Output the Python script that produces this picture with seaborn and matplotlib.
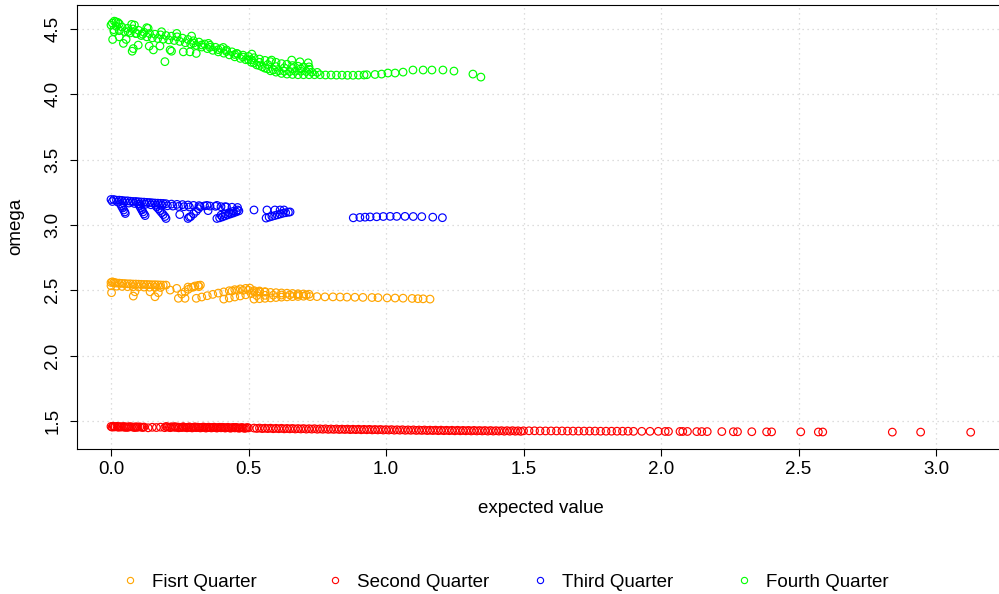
import numpy as np
import pandas as pd
import matplotlib
matplotlib.use("Agg")
import matplotlib.pyplot as plt
from matplotlib.lines import Line2D
import seaborn as sns

# ---- First Quarter (orange) ----
o_top_x = [0.000, 0.005, 0.010, 0.015, 0.020, 0.030, 0.040, 0.050, 0.060, 0.070, 0.080, 0.090,
           0.100, 0.110, 0.120, 0.130, 0.140, 0.150, 0.160, 0.170, 0.180, 0.190, 0.200]
o_top_y = [2.560, 2.565, 2.560, 2.558, 2.556, 2.555, 2.553, 2.552, 2.550, 2.550, 2.548, 2.548,
           2.547, 2.546, 2.545, 2.545, 2.544, 2.543, 2.543, 2.542, 2.541, 2.540, 2.540]
o_second_x = [0.00, 0.02, 0.04, 0.06, 0.08, 0.10, 0.12, 0.14, 0.16, 0.18]
o_second_y = [2.535, 2.532, 2.530, 2.528, 2.527, 2.526, 2.525, 2.524, 2.523, 2.522]
o_scatter_x = [0.002, 0.081, 0.087, 0.142, 0.160, 0.172, 0.215, 0.239, 0.245, 0.269]
o_scatter_y = [2.482, 2.456, 2.489, 2.489, 2.451, 2.482, 2.502, 2.515, 2.439, 2.439]
o_hook_x = [0.257, 0.269, 0.281, 0.293, 0.305, 0.317, 0.325, 0.280, 0.300, 0.320]
o_hook_y = [2.472, 2.489, 2.508, 2.523, 2.533, 2.538, 2.540, 2.525, 2.525, 2.528]
o_rise1_x = [0.31, 0.33, 0.35, 0.37, 0.39, 0.41, 0.43, 0.45, 0.47, 0.49, 0.505]
o_rise1_y = [2.439, 2.449, 2.459, 2.469, 2.479, 2.488, 2.497, 2.505, 2.511, 2.515, 2.517]
o_rise2_x = [0.41, 0.43, 0.45, 0.47, 0.49, 0.51, 0.53, 0.54]
o_rise2_y = [2.433, 2.441, 2.449, 2.457, 2.466, 2.475, 2.484, 2.489]
o_crest_x = [0.44, 0.46, 0.48, 0.50, 0.52, 0.54, 0.56]
o_crest_y = [2.495, 2.500, 2.500, 2.500, 2.498, 2.495, 2.490]
o_bandtop_x = [0.52, 0.54, 0.56, 0.58, 0.60, 0.62, 0.64, 0.66, 0.68, 0.70, 0.72]
o_bandtop_y = [2.490, 2.488, 2.486, 2.484, 2.482, 2.480, 2.478, 2.476, 2.474, 2.472, 2.470]
o_bandlow_x = [0.52, 0.54, 0.56, 0.58, 0.60, 0.62, 0.64, 0.66, 0.68, 0.70]
o_bandlow_y = [2.433, 2.436, 2.439, 2.442, 2.445, 2.448, 2.450, 2.452, 2.453, 2.455]
o_bandmid_x = [0.53, 0.56, 0.59, 0.62, 0.65, 0.68, 0.71]
o_bandmid_y = [2.460, 2.462, 2.463, 2.464, 2.465, 2.465, 2.465]
o_tail_x = [0.724, 0.749, 0.778, 0.807, 0.833, 0.858, 0.887, 0.916, 0.949, 0.971, 1.004,
            1.033, 1.062, 1.095, 1.116, 1.135, 1.160]
o_tail_y = [2.452, 2.452, 2.450, 2.450, 2.449, 2.448, 2.447, 2.446, 2.445, 2.444, 2.442,
            2.441, 2.440, 2.438, 2.436, 2.435, 2.433]

# ---- Second Quarter (red) ----
r_head_x = [0.000, 0.008, 0.015, 0.022, 0.030, 0.038, 0.045, 0.052, 0.060, 0.068,
            0.075, 0.082, 0.090, 0.098, 0.105, 0.112, 0.120, 0.135, 0.150, 0.165,
            0.180, 0.195, 0.205, 0.212, 0.220, 0.228, 0.235, 0.242, 0.250, 0.258,
            0.265, 0.272, 0.280, 0.290, 0.300, 0.310, 0.320, 0.330, 0.340, 0.350,
            0.360, 0.370, 0.380, 0.390, 0.400, 0.410, 0.420, 0.430, 0.440, 0.450,
            0.460, 0.470, 0.480, 0.490, 0.500]
r_head_y = [1.458, 1.460, 1.456, 1.459, 1.457, 1.455, 1.458, 1.456, 1.454, 1.457,
            1.455, 1.453, 1.456, 1.454, 1.455, 1.452, 1.454, 1.448, 1.452, 1.450,
            1.453, 1.449, 1.455, 1.452, 1.456, 1.453, 1.451, 1.454, 1.452, 1.450,
            1.453, 1.451, 1.452, 1.450, 1.452, 1.449, 1.451, 1.450, 1.452, 1.449,
            1.450, 1.451, 1.449, 1.450, 1.448, 1.450, 1.449, 1.448, 1.449, 1.447,
            1.448, 1.447, 1.448, 1.446, 1.447]
r_fill_x = [0.004, 0.012, 0.026, 0.034, 0.048, 0.056, 0.064, 0.086, 0.094, 0.116,
            0.200, 0.216, 0.232, 0.246, 0.262, 0.276, 0.285, 0.295, 0.305, 0.315,
            0.325, 0.335, 0.345, 0.355, 0.365, 0.375, 0.385, 0.395, 0.405, 0.415,
            0.425, 0.435, 0.445, 0.455, 0.465, 0.475, 0.485, 0.495]
r_fill_y = [1.453, 1.455, 1.452, 1.454, 1.452, 1.451, 1.453, 1.450, 1.452, 1.451,
            1.458, 1.449, 1.457, 1.448, 1.456, 1.448, 1.455, 1.447, 1.455, 1.453,
            1.447, 1.454, 1.446, 1.453, 1.447, 1.453, 1.446, 1.452, 1.452, 1.446,
            1.452, 1.445, 1.451, 1.451, 1.445, 1.450, 1.444, 1.450]
r_body_x = [0.52, 0.54, 0.56, 0.58, 0.60, 0.62, 0.64, 0.66, 0.68, 0.70,
            0.72, 0.74, 0.76, 0.78, 0.80, 0.82, 0.84, 0.86, 0.88, 0.90,
            0.92, 0.94, 0.96, 0.98, 1.00, 1.02, 1.04, 1.06, 1.08, 1.10,
            1.12, 1.14, 1.16, 1.18, 1.20, 1.22, 1.24, 1.26, 1.28, 1.30,
            1.32, 1.34, 1.36, 1.38, 1.40, 1.42, 1.44, 1.46, 1.48, 1.50,
            1.52, 1.54, 1.56, 1.58, 1.60, 1.62, 1.64, 1.66, 1.68, 1.70,
            1.72, 1.74, 1.76, 1.78, 1.80, 1.82, 1.84, 1.86, 1.88, 1.90]
r_body_y = [1.446, 1.446, 1.445, 1.445, 1.444, 1.444, 1.443, 1.443, 1.442, 1.442,
            1.441, 1.441, 1.440, 1.440, 1.439, 1.439, 1.438, 1.438, 1.437, 1.437,
            1.436, 1.436, 1.435, 1.435, 1.434, 1.434, 1.433, 1.433, 1.432, 1.432,
            1.431, 1.431, 1.430, 1.430, 1.430, 1.429, 1.429, 1.429, 1.428, 1.428,
            1.428, 1.427, 1.427, 1.427, 1.426, 1.426, 1.426, 1.426, 1.425, 1.425,
            1.425, 1.425, 1.424, 1.424, 1.424, 1.424, 1.424, 1.423, 1.423, 1.423,
            1.423, 1.423, 1.423, 1.422, 1.422, 1.422, 1.422, 1.422, 1.422, 1.421]
r_body2_x = [0.53, 0.55, 0.57, 0.59, 0.61, 0.63, 0.65, 0.67, 0.69, 0.71,
             0.73, 0.75, 0.77, 0.79, 0.81, 0.83, 0.85, 0.87, 0.89, 0.91,
             0.93, 0.95, 0.97, 0.99, 1.01, 1.03, 1.05, 1.07, 1.09, 1.11,
             1.13, 1.15, 1.17, 1.19, 1.21, 1.23, 1.25, 1.27, 1.29, 1.31,
             1.33, 1.35, 1.37, 1.39, 1.41, 1.43, 1.45, 1.47, 1.49]
r_body2_y = [1.443, 1.442, 1.442, 1.441, 1.441, 1.440, 1.440, 1.439, 1.439, 1.438,
             1.438, 1.437, 1.437, 1.436, 1.436, 1.435, 1.435, 1.434, 1.434, 1.433,
             1.433, 1.432, 1.432, 1.431, 1.431, 1.430, 1.430, 1.429, 1.429, 1.428,
             1.428, 1.427, 1.427, 1.426, 1.426, 1.426, 1.425, 1.425, 1.425, 1.424,
             1.424, 1.424, 1.423, 1.423, 1.423, 1.422, 1.422, 1.422, 1.421]
r_tail_x = [1.930, 1.960, 1.990, 2.015, 2.027, 2.069, 2.079, 2.096, 2.130, 2.148,
            2.168, 2.221, 2.263, 2.278, 2.330, 2.384, 2.402, 2.508, 2.572, 2.588,
            2.841, 2.944, 3.126]
r_tail_y = [1.421, 1.421, 1.421, 1.420, 1.420, 1.420, 1.420, 1.420, 1.419, 1.419,
            1.419, 1.419, 1.418, 1.418, 1.418, 1.417, 1.417, 1.417, 1.416, 1.416,
            1.415, 1.415, 1.414]

# ---- Third Quarter (blue) ----
b_top_x = [0.00, 0.01, 0.02, 0.03, 0.04, 0.05, 0.06, 0.07, 0.08, 0.09, 0.10, 0.11,
           0.12, 0.13, 0.14, 0.15, 0.16, 0.17, 0.18, 0.19, 0.20, 0.22, 0.24, 0.26,
           0.28, 0.30, 0.32, 0.34, 0.36, 0.38, 0.40, 0.42, 0.44, 0.46]
b_top_y = [3.195, 3.195, 3.190, 3.190, 3.188, 3.185, 3.185, 3.182, 3.180, 3.180, 3.178, 3.176,
           3.175, 3.173, 3.172, 3.170, 3.168, 3.167, 3.166, 3.165, 3.163, 3.160, 3.158, 3.156,
           3.153, 3.150, 3.148, 3.146, 3.145, 3.143, 3.140, 3.138, 3.136, 3.134]
b_second_x = [0.005, 0.025, 0.045, 0.065, 0.085, 0.105, 0.125, 0.145, 0.165, 0.185,
              0.205, 0.225, 0.245, 0.265, 0.285]
b_second_y = [3.180, 3.175, 3.170, 3.168, 3.165, 3.160, 3.158, 3.155, 3.152, 3.150,
              3.147, 3.145, 3.142, 3.140, 3.138]
b_hook_x = [0.035, 0.038, 0.042, 0.046, 0.050, 0.052,
            0.100, 0.104, 0.108, 0.112, 0.116, 0.120, 0.124,
            0.165, 0.172, 0.178, 0.184, 0.190, 0.196, 0.200,
            0.250,
            0.280, 0.285, 0.290, 0.300, 0.310, 0.318, 0.324,
            0.349, 0.353, 0.385, 0.415]
b_hook_y = [3.160, 3.145, 3.130, 3.115, 3.100, 3.088,
            3.160, 3.145, 3.130, 3.115, 3.100, 3.085, 3.072,
            3.140, 3.125, 3.110, 3.095, 3.080, 3.065, 3.050,
            3.080,
            3.050, 3.060, 3.065, 3.085, 3.105, 3.125, 3.140,
            3.150, 3.110, 3.150, 3.140]
b_rise_x = [0.385, 0.395, 0.405, 0.415, 0.425, 0.435, 0.445, 0.455, 0.465,
            0.400, 0.415, 0.430, 0.445, 0.460]
b_rise_y = [3.050, 3.055, 3.062, 3.070, 3.078, 3.085, 3.092, 3.100, 3.108,
            3.075, 3.085, 3.095, 3.105, 3.115]
b_mid_x = [0.520, 0.567, 0.596, 0.615, 0.629,
           0.564, 0.575, 0.585, 0.595, 0.605, 0.615, 0.625, 0.635, 0.645, 0.651]
b_mid_y = [3.115, 3.115, 3.115, 3.115, 3.115,
           3.053, 3.060, 3.066, 3.072, 3.078, 3.084, 3.090, 3.094, 3.098, 3.100]
b_tail_x = [0.881, 0.905, 0.924, 0.942, 0.966, 0.990, 1.015, 1.039, 1.069, 1.099,
            1.130, 1.170, 1.205]
b_tail_y = [3.055, 3.058, 3.060, 3.062, 3.063, 3.065, 3.066, 3.066, 3.066, 3.065,
            3.064, 3.060, 3.056]

# ---- Fourth Quarter (green) ----
g_upper_x = [0.00, 0.02, 0.04, 0.06, 0.08, 0.10, 0.12, 0.14, 0.16, 0.18, 0.20, 0.22,
             0.24, 0.26, 0.28, 0.30, 0.32, 0.34, 0.36, 0.38, 0.40, 0.42, 0.44, 0.46,
             0.48, 0.50, 0.52, 0.54, 0.56, 0.58, 0.60, 0.62, 0.64, 0.66, 0.68, 0.70, 0.72]
g_upper_y = [4.530, 4.520, 4.515, 4.505, 4.500, 4.490, 4.475, 4.465, 4.460, 4.455, 4.450, 4.445,
             4.440, 4.430, 4.420, 4.410, 4.400, 4.385, 4.375, 4.360, 4.350, 4.340, 4.325, 4.310,
             4.300, 4.290, 4.280, 4.270, 4.260, 4.250, 4.245, 4.235, 4.230, 4.220, 4.215, 4.210, 4.210]
g_mid_x = [0.01, 0.03, 0.05, 0.07, 0.09, 0.11, 0.13, 0.15, 0.17, 0.19, 0.21, 0.23,
           0.25, 0.27, 0.29, 0.31, 0.33, 0.35, 0.37, 0.39, 0.41, 0.43, 0.45, 0.47,
           0.49, 0.51, 0.53, 0.55, 0.57, 0.59, 0.61, 0.63, 0.65, 0.67, 0.69, 0.71, 0.73, 0.75]
g_mid_y = [4.495, 4.487, 4.480, 4.470, 4.465, 4.450, 4.440, 4.432, 4.427, 4.422, 4.417, 4.412,
           4.405, 4.395, 4.385, 4.375, 4.362, 4.350, 4.337, 4.325, 4.315, 4.302, 4.287, 4.275,
           4.265, 4.245, 4.225, 4.210, 4.195, 4.187, 4.180, 4.177, 4.175, 4.177, 4.177, 4.175, 4.170, 4.168]
g_inner_x = [0.30, 0.33, 0.36, 0.39, 0.42, 0.45, 0.48, 0.51, 0.54, 0.57, 0.60, 0.63,
             0.66, 0.69, 0.72]
g_inner_y = [4.392, 4.378, 4.360, 4.342, 4.328, 4.305, 4.285, 4.265, 4.245, 4.228, 4.212, 4.203,
             4.198, 4.195, 4.192]
g_lower_x = [0.50, 0.52, 0.54, 0.56, 0.58, 0.60, 0.62, 0.64, 0.66, 0.68, 0.70,
             0.72, 0.74, 0.76, 0.78, 0.80, 0.82, 0.84, 0.86, 0.88, 0.90, 0.92]
g_lower_y = [4.265, 4.240, 4.220, 4.200, 4.180, 4.170, 4.160, 4.155, 4.152, 4.150, 4.150,
             4.150, 4.150, 4.150, 4.148, 4.148, 4.147, 4.147, 4.146, 4.146, 4.147, 4.148]
g_bump_x = [0.011, 0.062, 0.093, 0.115, 0.184, 0.239, 0.293, 0.354, 0.408, 0.457, 0.512,
            0.584, 0.657, 0.687, 0.717]
g_bump_y = [4.480, 4.480, 4.466, 4.460, 4.479, 4.466, 4.446, 4.390, 4.359, 4.313, 4.308,
            4.262, 4.262, 4.249, 4.241]
g_peak_x = [0.005, 0.012, 0.018, 0.025, 0.030, 0.075, 0.085, 0.130, 0.135]
g_peak_y = [4.545, 4.560, 4.555, 4.550, 4.540, 4.535, 4.530, 4.510, 4.505]
g_low_x = [0.006, 0.045, 0.077, 0.081, 0.099, 0.139, 0.154, 0.178, 0.196, 0.215, 0.220,
           0.263, 0.287, 0.310, 0.030, 0.055]
g_low_y = [4.420, 4.390, 4.330, 4.350, 4.377, 4.369, 4.340, 4.370, 4.250, 4.340, 4.330,
           4.325, 4.325, 4.313, 4.440, 4.420]
g_tail_x = [0.930, 0.960, 0.984, 1.007, 1.033, 1.062, 1.098, 1.135, 1.167, 1.207, 1.247,
            1.316, 1.345]
g_tail_y = [4.150, 4.152, 4.155, 4.163, 4.163, 4.170, 4.186, 4.186, 4.186, 4.186, 4.178,
            4.155, 4.132]

quarters = ["Fisrt Quarter", "Second Quarter", "Third Quarter", "Fourth Quarter"]
colors = ["#FFA500", "#FF0000", "#0000FF", "#00FF00"]
x_ticks = [0.0, 0.5, 1.0, 1.5, 2.0, 2.5, 3.0]
y_ticks = [1.5, 2.0, 2.5, 3.0, 3.5, 4.0, 4.5]

segments = {
    "Fisrt Quarter": [(o_top_x, o_top_y), (o_second_x, o_second_y), (o_scatter_x, o_scatter_y),
                      (o_hook_x, o_hook_y), (o_rise1_x, o_rise1_y), (o_rise2_x, o_rise2_y),
                      (o_crest_x, o_crest_y), (o_bandtop_x, o_bandtop_y),
                      (o_bandlow_x, o_bandlow_y), (o_bandmid_x, o_bandmid_y),
                      (o_tail_x, o_tail_y)],
    "Second Quarter": [(r_head_x, r_head_y), (r_fill_x, r_fill_y), (r_body_x, r_body_y),
                       (r_body2_x, r_body2_y), (r_tail_x, r_tail_y)],
    "Third Quarter": [(b_top_x, b_top_y), (b_second_x, b_second_y), (b_hook_x, b_hook_y),
                      (b_rise_x, b_rise_y), (b_mid_x, b_mid_y), (b_tail_x, b_tail_y)],
    "Fourth Quarter": [(g_upper_x, g_upper_y), (g_mid_x, g_mid_y), (g_inner_x, g_inner_y),
                       (g_lower_x, g_lower_y), (g_bump_x, g_bump_y), (g_peak_x, g_peak_y),
                       (g_low_x, g_low_y), (g_tail_x, g_tail_y)],
}

rows = []
for name in quarters:
    for xs, ys in segments[name]:
        for xv, yv in zip(xs, ys):
            rows.append((xv, yv, name))
df = pd.DataFrame(rows, columns=["expected", "omega", "quarter"])

sns.set_theme(style="white")
plt.rcParams["font.family"] = ["Liberation Sans", "DejaVu Sans"]
plt.rcParams["text.color"] = "black"
plt.rcParams["axes.labelcolor"] = "black"
plt.rcParams["xtick.color"] = "black"
plt.rcParams["ytick.color"] = "black"

FS = 13.5
fig = plt.figure(figsize=(9.99, 5.94), dpi=100)
ax = fig.add_axes([0.0767, 0.2446, 0.9291, 0.7475])

palette = dict(zip(quarters, colors))
sns.scatterplot(data=df, x="expected", y="omega", hue="quarter", hue_order=quarters,
                palette=palette, marker="o", s=30, linewidth=0.85, legend=False,
                ax=ax, zorder=3)
# hollow circles in the hue colour
for coll in ax.collections:
    fc = coll.get_facecolors()
    coll.set_edgecolors(fc)
    coll.set_facecolors("none")

ax.set_xlim(-0.125, 3.25)
ax.set_ylim(1.288, 4.686)
ax.set_xticks(x_ticks)
ax.set_xticklabels([f"{v:.1f}" for v in x_ticks])
ax.set_yticks(y_ticks)
ax.set_yticklabels([f"{v:.1f}" for v in y_ticks], rotation=90, va="center")

ax.grid(True, color="#D3D3D3", linestyle=(0, (1, 3)), linewidth=0.9)
ax.set_axisbelow(True)
for sp in ax.spines.values():
    sp.set_visible(True)
    sp.set_color("black")
    sp.set_linewidth(0.8)

ax.tick_params(axis="both", which="major", direction="out", length=5, width=0.8,
               color="black", labelsize=FS, bottom=True, left=True, top=False, right=False)
ax.tick_params(axis="x", pad=3.5)
ax.tick_params(axis="y", pad=6)

ax.set_xlabel("expected value", fontsize=FS)
ax.set_ylabel("omega", fontsize=FS)
ax.xaxis.set_label_coords(0.5, -0.1336)
ax.xaxis.label.set_va("center")
ax.yaxis.set_label_coords(-0.0653, 0.5)
ax.yaxis.label.set_va("center")

# legend row beneath the plot, one entry per quarter
legend_x = [130, 335, 540, 744]
for name, col, xc in zip(quarters, colors, legend_x):
    h = Line2D([], [], linestyle="none", marker="o", markersize=4.5,
               markerfacecolor="none", markeredgecolor=col, markeredgewidth=0.8)
    fig.legend(handles=[h], labels=[name], loc="center left",
               bbox_to_anchor=((xc - 9.4) / 999, 12 / 594), frameon=False,
               fontsize=FS, handlelength=1.0, handletextpad=0.67,
               borderpad=0, borderaxespad=0)

fig.savefig("out.png", dpi=100)
